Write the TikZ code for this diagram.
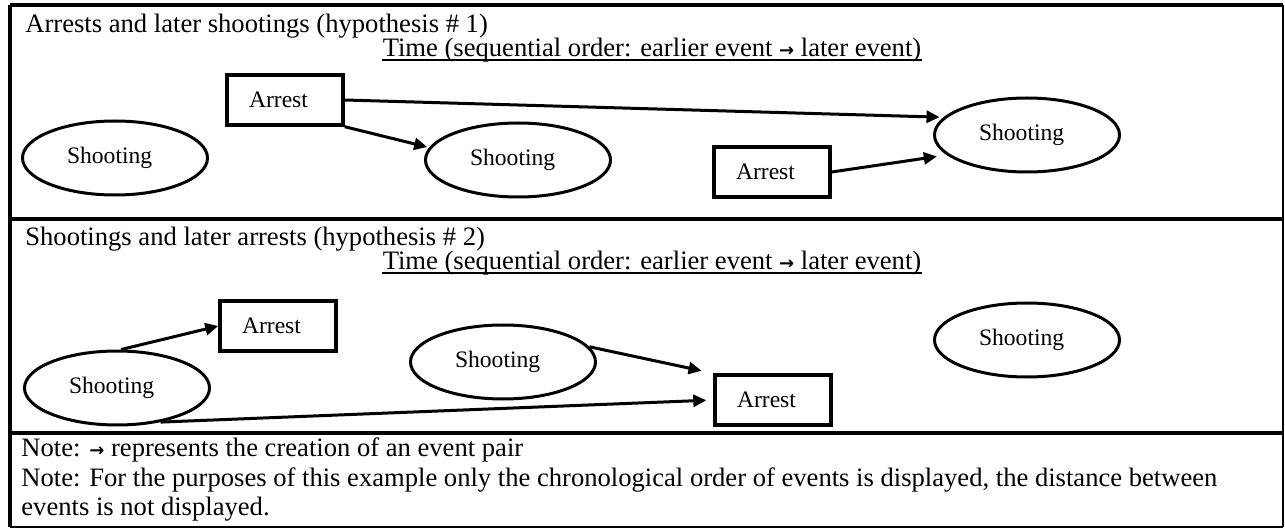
\documentclass[tikz,border=0pt]{standalone}
\usepackage{fontspec}
\setmainfont{Liberation Serif}
\newfontfamily\arrowfont{DejaVu Sans}
\usetikzlibrary{shapes.geometric,arrows.meta}
\newcommand{\pairarrow}{{\arrowfont\bfseries\fontsize{9}{9}\selectfont →}}
\begin{document}
\begin{tikzpicture}[x=0.5pt,y=-0.5pt,
    font=\fontsize{11.8}{11.5}\selectfont,
    arrest/.style={draw,line width=1.7pt,minimum width=58pt,minimum height=25pt,
      inner xsep=0pt,text width=36pt,align=left},
    shoot/.style={draw,ellipse,line width=1.5pt,minimum width=92.5pt,minimum height=37pt,
      inner sep=0pt,text width=48pt,align=left},
    pair/.style={-{Triangle[length=6.5pt,width=6pt]},line width=1.5pt},
    txt/.style={inner sep=0pt,anchor=base west,font=\fontsize{13.3}{15}\selectfont},
    timeline/.style={inner sep=0pt,anchor=base,font=\fontsize{13.3}{15}\selectfont},
    uline/.style={line width=0.7pt}]
  \useasboundingbox (0,0) rectangle (1285,529);
  % frame and panel rules
  \draw[line width=1.6pt] (10,5) -- (1283,5);
  \draw[line width=1.6pt] (10,219) -- (1283,219);
  \draw[line width=1.6pt] (10,433) -- (1283,433);
  \draw[line width=1.2pt] (10,527) -- (1283,527);
  \draw[line width=1.6pt] (10,5) -- (10,527);
  \draw[line width=0.8pt] (1283,5) -- (1283,527);
  % hypothesis 1
  \node[txt] (title1) at (25,33) {Arrests and later shootings (hypothesis \# 1)};
  \node[timeline] (time1) at (652,57) {Time (sequential order: earlier event \pairarrow{} later event)};
  \draw[uline] ([yshift=-1.6pt]time1.base west) -- ([yshift=-1.6pt]time1.base east);
  \node[arrest] (arrest1) at (285,100) {Arrest};
  \node[shoot] (shoot1) at (115,158) {Shooting};
  \node[shoot] (shoot2) at (518,160) {Shooting};
  \node[arrest] (arrest2) at (772,172) {Arrest};
  \node[shoot] (shoot3) at (1027,135) {Shooting};
  \draw[pair,shorten >=2pt] (arrest1.east) -- (shoot3.168);
  \draw[pair,shorten >=1pt] (arrest1.south east) -- (shoot2.172);
  \draw[pair,shorten >=5pt] (arrest2.east) -- (shoot3.194);
  % hypothesis 2
  \node[txt] (title2) at (25,246) {Shootings and later arrests (hypothesis \# 2)};
  \node[timeline] (time2) at (652,270) {Time (sequential order: earlier event \pairarrow{} later event)};
  \draw[uline] ([yshift=-1.6pt]time2.base west) -- ([yshift=-1.6pt]time2.base east);
  \node[arrest] (arrestA) at (278,326) {Arrest};
  \node[shoot] (shootA) at (117,388) {Shooting};
  \node[shoot] (shootB) at (503,362) {Shooting};
  \node[arrest] (arrestB) at (773,400) {Arrest};
  \node[shoot] (shootC) at (1027,340) {Shooting};
  \draw[pair] (shootA.84) -- (arrestA.west);
  \draw[pair,shorten >=6pt] (shootB.10) -- (arrestB.north west);
  \draw[pair,shorten >=3.5pt] (shootA.-38) -- (arrestB.west);
  % notes
  \node[txt] (noteA) at (21,456) {Note: \pairarrow{} represents the creation of an event pair};
  \node[txt] (noteB) at (21,486) {Note: For the purposes of this example only the chronological order of events is displayed, the distance between};
  \node[txt] (noteC) at (21,515) {events is not displayed.};
\end{tikzpicture}
\end{document}
